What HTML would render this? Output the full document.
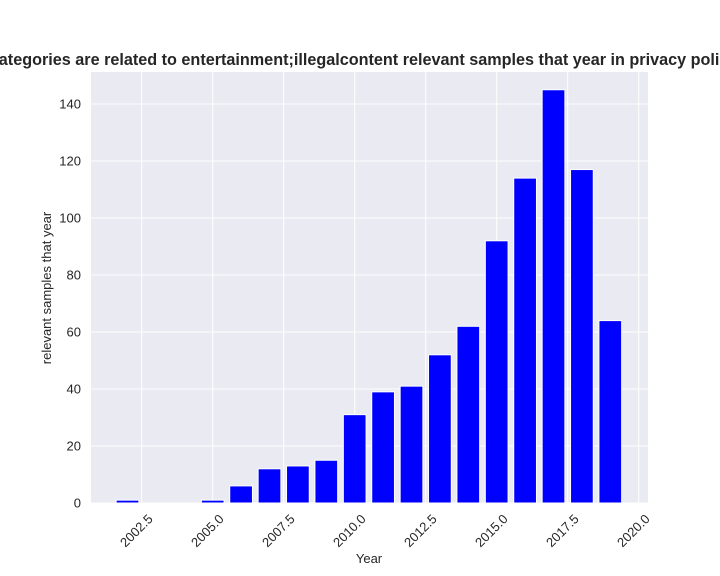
<!DOCTYPE html>
<html><head><meta charset="utf-8"><style>
body{margin:0;background:#fff;}
svg{display:block;font-family:"Liberation Sans","DejaVu Sans",sans-serif;}
</style></head><body>
<svg id="chart" width="720" height="576"></svg>
<script>
const years=[2002,2003,2004,2005,2006,2007,2008,2009,2010,2011,2012,2013,2014,2015,2016,2017,2018,2019];
const counts=[1,0,0,1,6,12,13,15,31,39,41,52,62,92,114,145,117,64];
const xTicks=[2002.5,2005.0,2007.5,2010.0,2012.5,2015.0,2017.5,2020.0];
const yTicks=[0,20,40,60,80,100,120,140];
const NS="http://www.w3.org/2000/svg";
const svg=document.getElementById('chart');
const L=91,R=648,T=72,B=503;
const x0=2002.5,px0=141.7,ppy=28.4;
function X(v){return px0+(v-x0)*ppy;}
function Y(v){return B-v*2.85;}
function mk(t,a){const e=document.createElementNS(NS,t);for(const k in a)e.setAttribute(k,a[k]);svg.appendChild(e);return e;}
let bg=mk('rect',{x:L,y:T,width:R-L,height:B-T,fill:'#eaeaf2'});


xTicks.forEach(v=>{
 let g=mk('line',{x1:X(v),x2:X(v),y1:T,y2:B,stroke:'#fff','stroke-width':1});
 
 
 const cx=X(v)-5,cy=B+32;
 let t=mk('text',{x:cx,y:cy,'font-size':13,fill:'#262626','text-anchor':'middle',transform:`rotate(-45 ${cx} ${cy-4})`});
 t.textContent=v.toFixed(1);
 
 
});
yTicks.forEach(v=>{
 let g=mk('line',{x1:L,x2:R,y1:Y(v),y2:Y(v),stroke:'#fff','stroke-width':1});
 
 
 let t=mk('text',{x:L-10,y:Y(v)+4.5,'font-size':13,fill:'#262626','text-anchor':'end'});
 t.textContent=v;
 
 
});
years.forEach((yr,i)=>{
 const w=0.8*ppy;
 let r=mk('rect',{x:X(yr)-w/2,y:Y(counts[i]),width:w,height:B-Y(counts[i]),fill:'#0000ff',stroke:'#fff','stroke-width':1});
 
 
});
let xt=mk('text',{x:369,y:563,'font-size':13,fill:'#262626','text-anchor':'middle'});
xt.textContent='Year';


let yt=mk('text',{x:51,y:288,'font-size':13,fill:'#262626','text-anchor':'middle',transform:'rotate(-90 51 288)'});
yt.textContent='relevant samples that year';


let tt=mk('text',{x:369,y:65,'font-size':16.2,'font-weight':'bold',fill:'#262626','text-anchor':'middle'});
tt.textContent='Categories are related to entertainment;illegalcontent relevant samples that year in privacy policies';


</script>
</body></html>
